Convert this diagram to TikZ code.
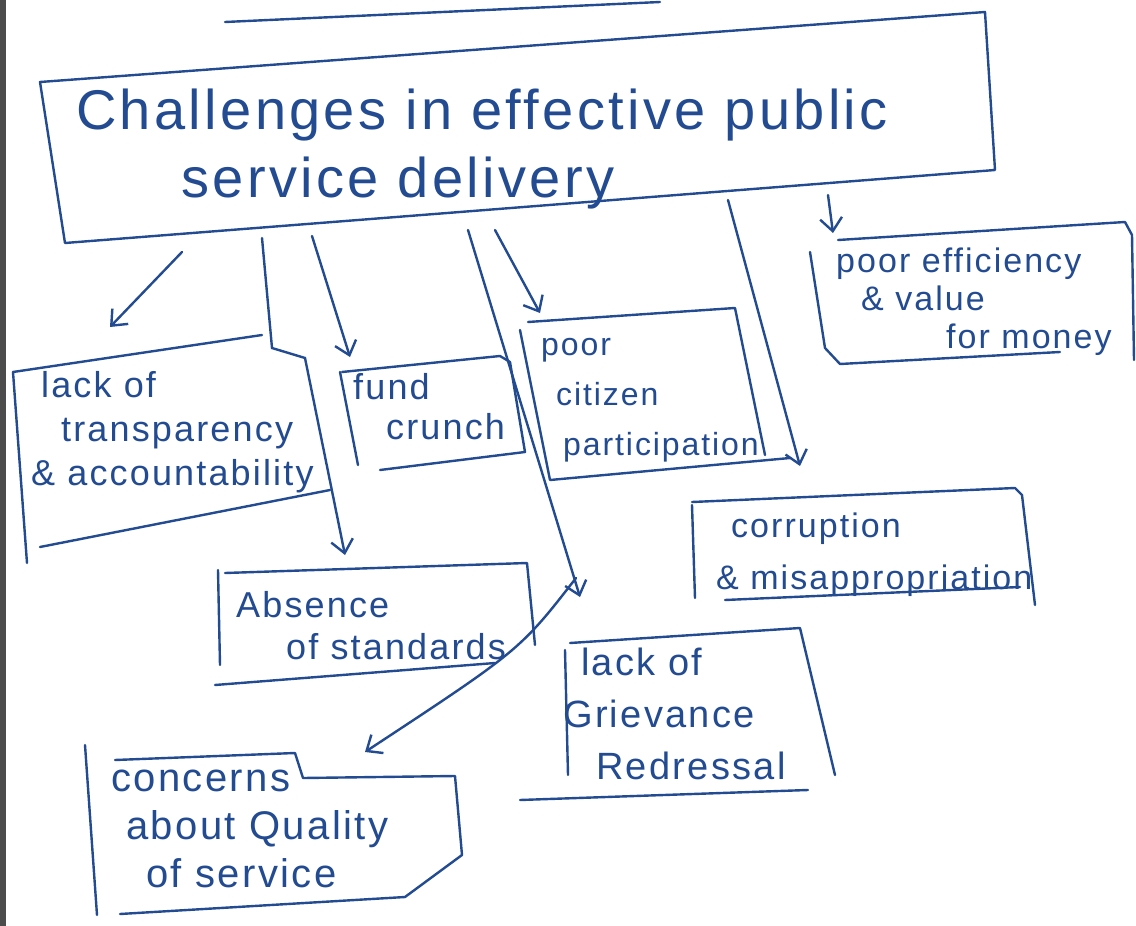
\documentclass[tikz,border=0pt]{standalone}
\usepackage{fontspec}
\setmainfont{Liberation Sans}
\newfontfamily\hand{Liberation Sans}[LetterSpace=6]
\usetikzlibrary{arrows.meta}
\definecolor{ink}{RGB}{35,75,145}
\begin{document}
\begin{tikzpicture}[x=1pt,y=-1pt,line width=2.4pt,
  box/.style={draw=ink,line join=round,line cap=round},
  lbl/.style={text=ink,align=left,inner sep=0pt,anchor=north west},
  arr/.style={draw=ink,line cap=round,-{Straight Barb[length=13pt,width=22pt]}}]
\useasboundingbox (0,0) rectangle (1136,926);
\fill[white] (0,0) rectangle (1136,926);
\fill[black!70] (0,0) rectangle (6,926);
% partial underline at top edge
\draw[box] (225,22) -- (660,2);
% main box
\draw[box] (40,82) -- (985,12) -- (995,170) -- (65,243) -- cycle;
\node[lbl,font=\hand\fontsize{56}{68}\selectfont] (main) at (75,88) {Challenges in effective public\\\hspace*{105pt}service delivery};
% lack of transparency
\draw[box] (13,372) -- (262,335);
\draw[box] (13,372) -- (27,563);
\draw[box] (40,547) -- (330,490);
\node[lbl,font=\hand\fontsize{36}{44}\selectfont] (trans) at (30,370) {\hspace*{10pt}lack of\\\hspace*{30pt}transparency\\\& accountability};
% fund crunch
\draw[box] (342,372) -- (500,356) -- (510,362) -- (525,452) -- (380,470);
\draw[box] (340,372) -- (358,465);
\node[lbl,font=\hand\fontsize{36}{40}\selectfont] (fund) at (352,372) {fund\\\hspace*{33pt}crunch};
% poor citizen participation
\draw[box] (528,322) -- (735,308) -- (765,455);
\draw[box] (520,330) -- (550,480) -- (790,458);
\node[lbl,font=\hand\fontsize{32}{50}\selectfont] (citizen) at (540,337) {poor\\\hspace*{15pt}citizen\\\hspace*{22pt}participation};
% poor efficiency
\draw[box] (838,240) -- (1125,222) -- (1132,235) -- (1134,360);
\draw[box] (810,252) -- (825,348) -- (840,364) -- (1060,352);
\node[lbl,font=\hand\fontsize{34}{38}\selectfont] (eff) at (835,247) {poor efficiency\\\hspace*{25pt}\& value\\\hspace*{110pt}for money};
% corruption
\draw[box] (692,502) -- (1015,488) -- (1022,495) -- (1035,605);
\draw[box] (692,505) -- (695,598);
\draw[box] (725,600) -- (1020,587);
\node[lbl,font=\hand\fontsize{34}{52}\selectfont] (corr) at (730,512) {corruption\\\hspace*{-15pt}\& misappropriation};
% absence of standards
\draw[box] (225,573) -- (527,563) -- (535,645);
\draw[box] (218,570) -- (220,665);
\draw[box] (215,685) -- (495,663);
\node[lbl,font=\hand\fontsize{36}{42}\selectfont] (abs) at (235,590) {Absence\\\hspace*{50pt}of standards};
% lack of grievance redressal
\draw[box] (570,643) -- (800,628) -- (835,775);
\draw[box] (565,650) -- (568,775);
\draw[box] (520,800) -- (808,790);
\node[lbl,font=\hand\fontsize{38}{52}\selectfont] (griev) at (580,647) {lack of\\\hspace*{-18pt}Grievance\\\hspace*{15pt}Redressal};
% concerns about quality
\draw[box] (115,760) -- (295,753) -- (303,778) -- (455,776) -- (462,855) -- (405,897) -- (120,914);
\draw[box] (85,745) -- (97,915);
\node[lbl,font=\hand\fontsize{40}{48}\selectfont] (conc) at (110,769) {concerns\\\hspace*{15pt}about Quality\\\hspace*{35pt}of service};

% arrow coordinates
\coordinate (a1s) at (182,252); \coordinate (a1e) at (110,327);
\coordinate (a2s) at (262,238); \coordinate (a2b) at (272,348); \coordinate (a2c) at (305,358); \coordinate (a2e) at (345,555);
\coordinate (a3s) at (312,236); \coordinate (a3e) at (350,357);
\coordinate (a4s) at (468,230); \coordinate (a4e) at (580,597);
\coordinate (a5s) at (576,578); \coordinate (a5e) at (365,752);
\coordinate (a6s) at (495,230); \coordinate (a6e) at (540,313);
\coordinate (a7s) at (728,200); \coordinate (a7e) at (800,466);
\coordinate (a8s) at (828,195); \coordinate (a8e) at (833,233);

\draw[arr] (a1s) -- (a1e);
\draw[arr] (a2s) -- (a2b) -- (a2c) -- (a2e);
\draw[arr] (a3s) -- (a3e);
\draw[arr] (a4s) -- (a4e);
\draw[arr] (a5s) .. controls (520,650) .. (a5e);
\draw[arr] (a6s) -- (a6e);
\draw[arr] (a7s) -- (a7e);
\draw[arr] (a8s) -- (a8e);
\end{tikzpicture}
\end{document}
